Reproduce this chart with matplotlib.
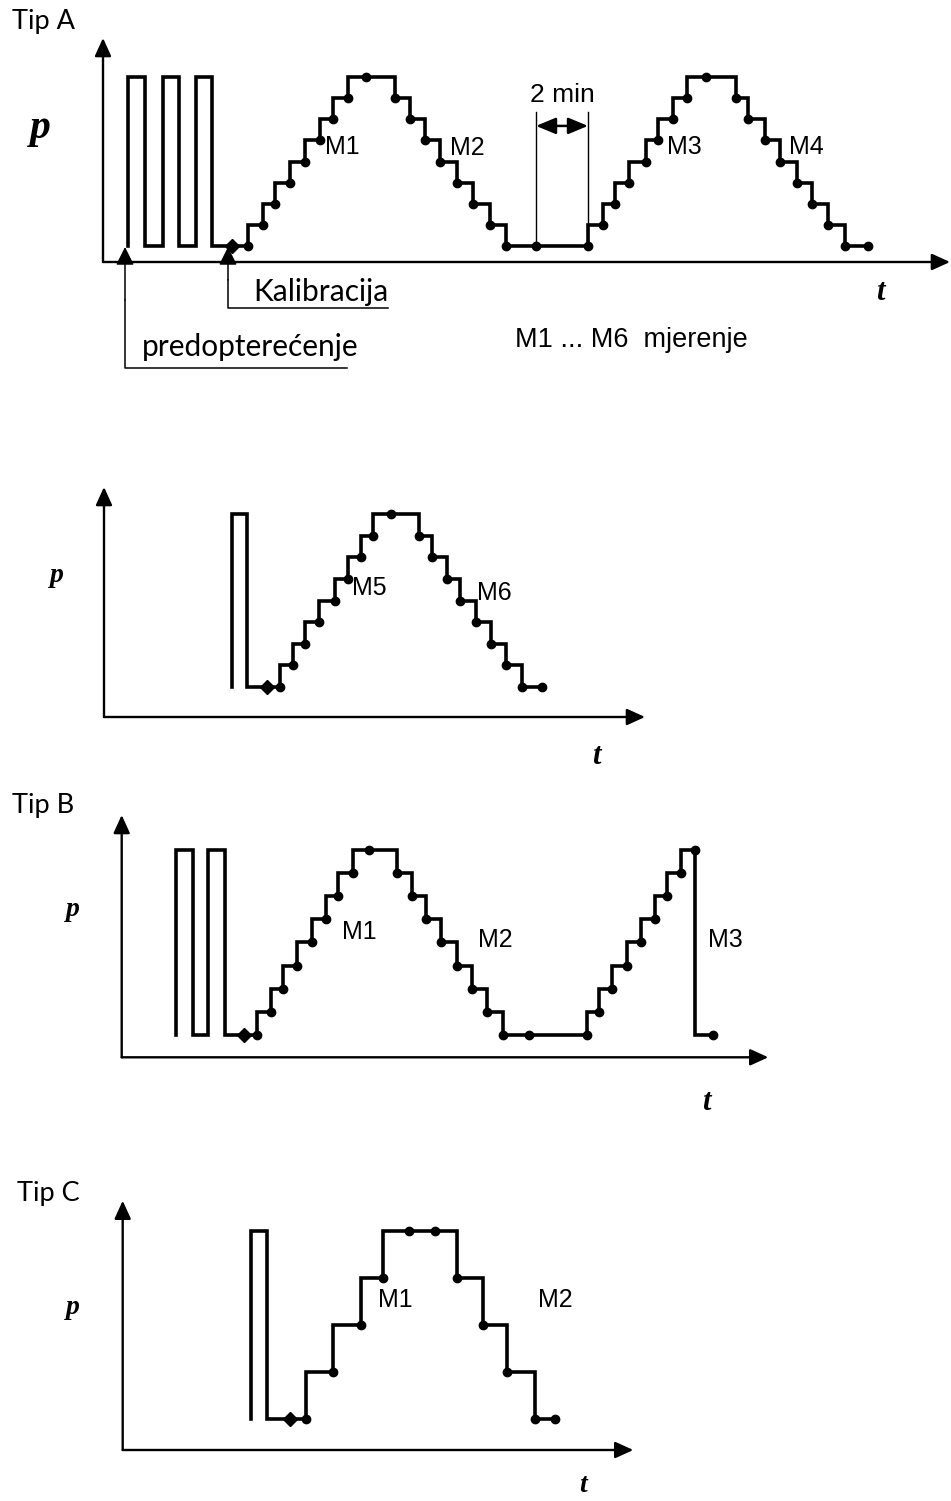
import numpy as np
import matplotlib
matplotlib.use("Agg")
import matplotlib.pyplot as plt

plt.rcParams.update({
    "font.family": "Liberation Sans",
    "figure.facecolor": "white",
    "savefig.facecolor": "white",
})

W, H = 951, 1501          # output size in px (dpi = 100)
STEP_PX = 15.0            # horizontal size of one time unit

# ---- data: pressure programmes (time units, pressure levels 0..8) ----------
# Tip A, first programme (pre-load x3, calibration, M1..M4)
A_t = [1.67, 1.67, 2.8, 4.0, 5.07, 6.2, 7.27,
       9.67, 10.67, 11.47, 12.47, 13.47, 14.47, 15.33, 16.33,
       19.47, 20.47, 21.47, 22.47, 23.6, 24.67, 25.8, 26.87,
       32.33, 33.33, 34.13, 35.07, 36.2, 37.0, 38.0, 38.93,
       42.2, 43.0, 44.13, 45.13, 46.27, 47.27, 48.33, 49.47, 51.0]
A_p = [0, 8, 0, 8, 0, 8, 0,
       1, 2, 3, 4, 5, 6, 7, 8,
       7, 6, 5, 4, 3, 2, 1, 0,
       1, 2, 3, 4, 5, 6, 7, 8,
       7, 6, 5, 4, 3, 2, 1, 0, 0]
A_cal = (8.6, 0)
A_extra_t = [17.53, 28.87, 40.2, 51.0]
A_extra_p = [8, 0, 8, 0]

# Tip A, second programme (M5, M6)
A2_t = [8.51, 8.51, 9.55,
        11.73, 12.6, 13.4, 14.33, 15.4, 16.27, 17.13, 17.93,
        21.0, 21.87, 22.87, 23.73, 24.8, 25.8, 26.8, 27.87, 29.2]
A2_p = [0, 8, 0,
        1, 2, 3, 4, 5, 6, 7, 8,
        7, 6, 5, 4, 3, 2, 1, 0, 0]
A2_cal = (10.85, 0)
A2_extra_t = [19.11, 29.2]
A2_extra_p = [8, 0]

# Tip B
B_t = [3.62, 3.62, 4.73, 5.77, 6.89,
       9.02, 9.95, 10.75, 11.69, 12.69, 13.62, 14.42, 15.42,
       18.35, 19.33, 20.29, 21.27, 22.33, 23.33, 24.37, 25.4,
       31.0, 31.84, 32.67, 33.67, 34.6, 35.55, 36.37, 37.27,
       38.22, 39.4]
B_p = [0, 8, 0, 8, 0,
       1, 2, 3, 4, 5, 6, 7, 8,
       7, 6, 5, 4, 3, 2, 1, 0,
       1, 2, 3, 4, 5, 6, 7, 8,
       0, 0]
B_cal = (8.15, 0)
B_extra_t = [16.51, 27.15, 38.22, 39.4]
B_extra_p = [8, 0, 8, 0]

# Tip C
C_t = [8.53, 8.53, 9.6, 12.22, 14.04, 15.87, 17.37, 22.31, 24.0, 25.64, 27.49, 28.82]
C_p = [0, 8, 0, 2, 4, 6, 8, 6, 4, 2, 0, 0]
C_cal = (11.15, 0)
C_extra_t = [19.11, 20.82, 28.82]
C_extra_p = [8, 8, 0]

fig = plt.figure(figsize=(W / 100, H / 100), dpi=100)

# overlay in picture pixels for labels and call-outs
ov = fig.add_axes([0, 0, 1, 1])
ov.set_xlim(0, W)
ov.set_ylim(H, 0)
ov.axis("off")

AX_ARROW = dict(arrowstyle="-|>,head_length=1.1,head_width=0.5", lw=1.7,
                color="black", shrinkA=0, shrinkB=0, mutation_scale=10)


def panel(ox, oy, w, h, s, b):
    """Axes whose origin sits at picture pixel (ox, oy), w x h px in size."""
    ax = fig.add_axes([ox / W, 1 - oy / H, w / W, h / H])
    ax.set_xlim(0, w / STEP_PX)
    ax.set_ylim(-b, h / s - b)
    ax.axis("off")
    ax.annotate("", xy=(1, 0), xytext=(0, 0), xycoords="axes fraction",
                arrowprops=AX_ARROW)
    ax.annotate("", xy=(0, 1), xytext=(0, 0), xycoords="axes fraction",
                arrowprops=AX_ARROW)
    return ax


def trace(ax, t, p, cal, ex_t, ex_p):
    ax.plot(t, p, drawstyle="steps-post", color="black", lw=2.6,
            solid_joinstyle="miter", clip_on=False)
    t = np.asarray(t)
    p = np.asarray(p)
    dp = np.diff(p)
    step = (np.abs(dp) > 0) & (np.abs(dp) < 8)
    dots_t = t[1:][step]
    dots_p = np.minimum(p[1:], p[:-1])[step]
    ax.plot(dots_t, dots_p, "o", color="black", ms=6, clip_on=False)
    ax.plot(ex_t, ex_p, "o", color="black", ms=6, clip_on=False)
    ax.plot([cal[0]], [cal[1]], "D", color="black", ms=7, clip_on=False)


axA = panel(103, 262, 847, 224, 21.1, 0.76)
trace(axA, A_t, A_p, A_cal, A_extra_t, A_extra_p)

axA2 = panel(104, 717, 541, 230, 21.6, 1.39)
trace(axA2, A2_t, A2_p, A2_cal, A2_extra_t, A2_extra_p)

axB = panel(121.7, 1057.3, 646.6, 242.3, 23.1, 0.97)
trace(axB, B_t, B_p, B_cal, B_extra_t, B_extra_p)

axC = panel(122.7, 1450, 510.6, 249.3, 23.6, 1.30)
trace(axC, C_t, C_p, C_cal, C_extra_t, C_extra_p)

# ---- "2 min" dimension on the bottom plateau of Tip A ----------------------
t0, t1 = A_extra_t[1], A_t[23]
axA.plot([t0, t0], [0, 6.35], color="black", lw=1.0, clip_on=False)
axA.plot([t1, t1], [0, 6.35], color="black", lw=1.0, clip_on=False)
axA.annotate("", xy=(t1, 5.69), xytext=(t0, 5.69), xycoords="data",
             arrowprops=dict(arrowstyle="<|-|>,head_length=1.2,head_width=0.5",
                             lw=1.8, color="black", shrinkA=0, shrinkB=0,
                             mutation_scale=10))
axA.text((t0 + t1) / 2, 7.15, "2 min", ha="center", va="center", fontsize=19)

# ---- call-outs -------------------------------------------------------------
CALL = dict(arrowstyle="-|>,head_length=1.1,head_width=0.55", lw=1.1,
            color="black", shrinkA=0, shrinkB=0, mutation_scale=10)
ov.plot([125, 125, 347], [300, 368, 368], color="black", lw=1.1)
ov.annotate("", xy=(125, 247), xytext=(125, 300), arrowprops=CALL)
ov.plot([228, 228, 388], [280, 308, 308], color="black", lw=1.1)
ov.annotate("", xy=(228, 247), xytext=(228, 280), arrowprops=CALL)

calibri = ["Lato", "DejaVu Sans"]
ov.text(253, 292, "Kalibracija", ha="left", va="center", fontsize=21.5, family=calibri)
ov.text(142, 347, "predopterećenje", ha="left", va="center", fontsize=21.5, family=calibri)
ov.text(12, 22, "Tip A", ha="left", va="center", fontsize=19.5, family=calibri)
ov.text(12, 805, "Tip B", ha="left", va="center", fontsize=19.5, family=calibri)
ov.text(17, 1193, "Tip C", ha="left", va="center", fontsize=19.5, family=calibri)
ov.text(515, 340, "M1 ... M6  mjerenje", ha="left", va="center", fontsize=19.5)

# measurement labels
for x, y, s in [(325, 147, "M1"), (450, 148, "M2"), (667, 147, "M3"), (789, 147, "M4"),
                (352, 588, "M5"), (477, 593, "M6"),
                (342, 932, "M1"), (478, 940, "M2"), (708, 940, "M3"),
                (378, 1300, "M1"), (538, 1300, "M2")]:
    ov.text(x, y, s, ha="left", va="center", fontsize=18)

# axis symbols
serif = dict(family="Liberation Serif", fontweight="bold", fontstyle="italic")
ov.text(40, 128, "p", ha="center", va="center", fontsize=30, **serif)
ov.text(57, 575, "p", ha="center", va="center", fontsize=20, **serif)
ov.text(73, 910, "p", ha="center", va="center", fontsize=20, **serif)
ov.text(73, 1308, "p", ha="center", va="center", fontsize=20, **serif)
ov.text(880, 293, "t", ha="center", va="center", fontsize=22, **serif)
ov.text(596, 757, "t", ha="center", va="center", fontsize=22, **serif)
ov.text(706, 1102, "t", ha="center", va="center", fontsize=22, **serif)
ov.text(583, 1485, "t", ha="center", va="center", fontsize=20, **serif)

fig.savefig("out.png", dpi=100)
